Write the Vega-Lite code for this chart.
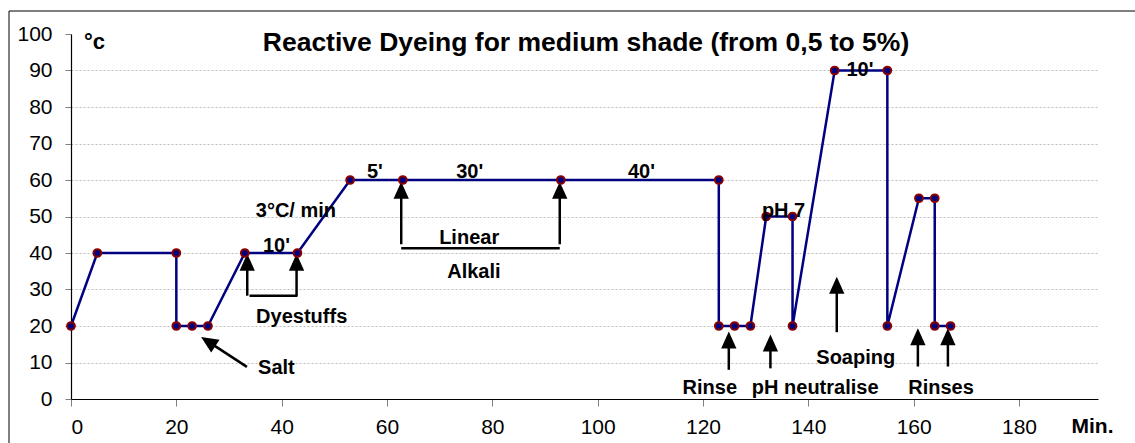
{
  "$schema": "https://vega.github.io/schema/vega-lite/v6.json",
  "width": 1027,
  "height": 365,
  "autosize": {"type": "none"},
  "padding": {"left": 71, "top": 34, "right": 37, "bottom": 44},
  "background": "white",
  "config": {
    "view": {"stroke": null},
    "font": "Liberation Sans",
    "axis": {"labelFont": "Liberation Sans", "titleFont": "Liberation Sans"}
  },
  "title": {
    "text": "Reactive Dyeing for medium shade (from 0,5 to 5%)",
    "font": "Liberation Sans",
    "fontSize": 26.5,
    "fontWeight": "bold",
    "color": "black",
    "anchor": "middle",
    "baseline": "middle",
    "offset": 0,
    "dx": 1.5,
    "dy": 59
  },
  "datasets": {
    "profile": [
      {"seq": 1, "t": 0, "temp": 20},
      {"seq": 2, "t": 5, "temp": 40},
      {"seq": 3, "t": 20, "temp": 40},
      {"seq": 4, "t": 20, "temp": 20},
      {"seq": 5, "t": 23, "temp": 20},
      {"seq": 6, "t": 26, "temp": 20},
      {"seq": 7, "t": 33, "temp": 40},
      {"seq": 8, "t": 43, "temp": 40},
      {"seq": 9, "t": 53, "temp": 60},
      {"seq": 10, "t": 63, "temp": 60},
      {"seq": 11, "t": 93, "temp": 60},
      {"seq": 12, "t": 123, "temp": 60},
      {"seq": 13, "t": 123, "temp": 20},
      {"seq": 14, "t": 126, "temp": 20},
      {"seq": 15, "t": 129, "temp": 20},
      {"seq": 16, "t": 132, "temp": 50},
      {"seq": 17, "t": 137, "temp": 50},
      {"seq": 18, "t": 137, "temp": 20},
      {"seq": 19, "t": 145, "temp": 90},
      {"seq": 20, "t": 155, "temp": 90},
      {"seq": 21, "t": 155, "temp": 20},
      {"seq": 22, "t": 161, "temp": 55},
      {"seq": 23, "t": 164, "temp": 55},
      {"seq": 24, "t": 164, "temp": 20},
      {"seq": 25, "t": 167, "temp": 20}
    ],
    "lines": [
      {"x": 33.46, "y": 28.3, "x2": 33.46, "y2": 36},
      {"x": 42.83, "y": 28.3, "x2": 42.83, "y2": 36},
      {"x": 33.9, "y": 28.3, "x2": 43.0, "y2": 28.3},
      {"x": 62.7, "y": 42.4, "x2": 62.7, "y2": 56},
      {"x": 92.8, "y": 42.4, "x2": 92.8, "y2": 56},
      {"x": 62.7, "y": 41.3, "x2": 92.8, "y2": 41.3},
      {"x": 124.9, "y": 8.0, "x2": 124.9, "y2": 15},
      {"x": 132.8, "y": 8.4, "x2": 132.8, "y2": 15},
      {"x": 145.4, "y": 18.3, "x2": 145.4, "y2": 30},
      {"x": 160.8, "y": 8.9, "x2": 160.8, "y2": 16},
      {"x": 166.5, "y": 8.9, "x2": 166.5, "y2": 16},
      {"x": 33.4, "y": 8.8, "x2": 26.5, "y2": 15.3}
    ],
    "heads": [
      {"x": 33.46, "y": 39.8, "angle": 0},
      {"x": 42.83, "y": 39.8, "angle": 0},
      {"x": 62.7, "y": 59.5, "angle": 0},
      {"x": 92.8, "y": 59.5, "angle": 0},
      {"x": 124.9, "y": 18.5, "angle": 0},
      {"x": 132.8, "y": 17.7, "angle": 0},
      {"x": 145.4, "y": 33.5, "angle": 0},
      {"x": 160.8, "y": 19.4, "angle": 0},
      {"x": 166.5, "y": 19.4, "angle": 0},
      {"x": 24.7, "y": 17.0, "angle": 303}
    ],
    "labels": [
      {"x": 39.0, "y": 41.8, "label": "10'"},
      {"x": 42.7, "y": 51.4, "label": "3°C/ min"},
      {"x": 57.7, "y": 62.3, "label": "5'"},
      {"x": 43.8, "y": 22.6, "label": "Dyestuffs"},
      {"x": 39.0, "y": 8.4, "label": "Salt"},
      {"x": 75.7, "y": 62.3, "label": "30'"},
      {"x": 108.3, "y": 62.3, "label": "40'"},
      {"x": 75.6, "y": 44.1, "label": "Linear"},
      {"x": 76.5, "y": 34.9, "label": "Alkali"},
      {"x": 121.3, "y": 3.1, "label": "Rinse"},
      {"x": 141.3, "y": 3.1, "label": "pH neutralise"},
      {"x": 165.2, "y": 3.0, "label": "Rinses"},
      {"x": 149.0, "y": 11.2, "label": "Soaping"},
      {"x": 135.3, "y": 51.4, "label": "pH 7"},
      {"x": 149.8, "y": 90.2, "label": "10'"}
    ]
  },
  "layer": [
    {
      "data": {"name": "profile"},
      "mark": {"type": "line", "color": "#000080", "strokeWidth": 2.5},
      "encoding": {
        "x": {"field": "t", "type": "quantitative", "scale": {"domain": [0, 195], "nice": false, "zero": false},
          "axis": {
            "values": [0, 20, 40, 60, 80, 100, 120, 140, 160, 180],
            "labelOverlap": false,
            "labelFontSize": 21, "labelColor": "black", "labelPadding": 10,
            "tickSize": 7, "tickColor": "#808080", "tickWidth": 1,
            "domainColor": "black", "domainWidth": 1.2,
            "grid": false,
            "title": "Min.", "titleFontSize": 21, "titleFontWeight": "bold", "titleColor": "black",
            "titleX": 1021, "titleY": 27.7, "titleAlign": "center", "titleBaseline": "middle", "titleAngle": 0
          }},
        "y": {"field": "temp", "type": "quantitative", "scale": {"domain": [0, 100], "nice": false, "zero": false},
          "axis": {
            "values": [0, 10, 20, 30, 40, 50, 60, 70, 80, 90, 100],
            "tickCount": 11,
            "labelOverlap": false,
            "labelFontSize": 21, "labelColor": "black", "labelPadding": 13,
            "tickSize": 6, "tickColor": "#808080", "tickWidth": 1,
            "domainColor": "black", "domainWidth": 1.2,
            "grid": true, "gridColor": "#bdbdbd", "gridDash": [2, 2], "gridWidth": 1,
            "gridOpacity": {"condition": {"test": "datum.value === 100 || datum.value === 0", "value": 0}, "value": 1},
            "title": "°c", "titleFontSize": 22, "titleFontWeight": "bold", "titleColor": "black",
            "titleX": 23, "titleY": 7.7, "titleAlign": "center", "titleBaseline": "middle", "titleAngle": 0
          }},
        "order": {"field": "seq", "type": "quantitative"}
      }
    },
    {
      "data": {"values": [{"frame": "outer"}]},
      "mark": {"type": "rect", "fillOpacity": 0, "stroke": "black", "strokeWidth": 1},
      "encoding": {
        "x": {"datum": -11.77, "type": "quantitative"},
        "x2": {"datum": 210},
        "y": {"datum": 106.3, "type": "quantitative"},
        "y2": {"datum": -20}
      }
    },
    {
      "data": {"name": "lines"},
      "mark": {"type": "rule", "color": "black", "strokeWidth": 2.5},
      "encoding": {
        "x": {"field": "x", "type": "quantitative"},
        "y": {"field": "y", "type": "quantitative"},
        "x2": {"field": "x2"},
        "y2": {"field": "y2"}
      }
    },
    {
      "data": {"name": "heads"},
      "mark": {"type": "point", "shape": "M0,0L0.45,1L-0.45,1Z", "filled": true, "fill": "black", "opacity": 1, "size": 1156, "strokeWidth": 0},
      "encoding": {
        "x": {"field": "x", "type": "quantitative"},
        "y": {"field": "y", "type": "quantitative"},
        "angle": {"field": "angle", "type": "quantitative", "scale": null}
      }
    },
    {
      "data": {"name": "profile"},
      "mark": {"type": "point", "filled": true, "fill": "#000080", "stroke": "#8b0000", "strokeWidth": 2, "size": 60, "opacity": 1},
      "encoding": {
        "x": {"field": "t", "type": "quantitative"},
        "y": {"field": "temp", "type": "quantitative"}
      }
    },
    {
      "data": {"name": "labels"},
      "mark": {"type": "text", "font": "Liberation Sans", "fontSize": 20, "fontWeight": "bold", "color": "black", "align": "center", "baseline": "middle"},
      "encoding": {
        "x": {"field": "x", "type": "quantitative"},
        "y": {"field": "y", "type": "quantitative"},
        "text": {"field": "label"}
      }
    }
  ]
}
